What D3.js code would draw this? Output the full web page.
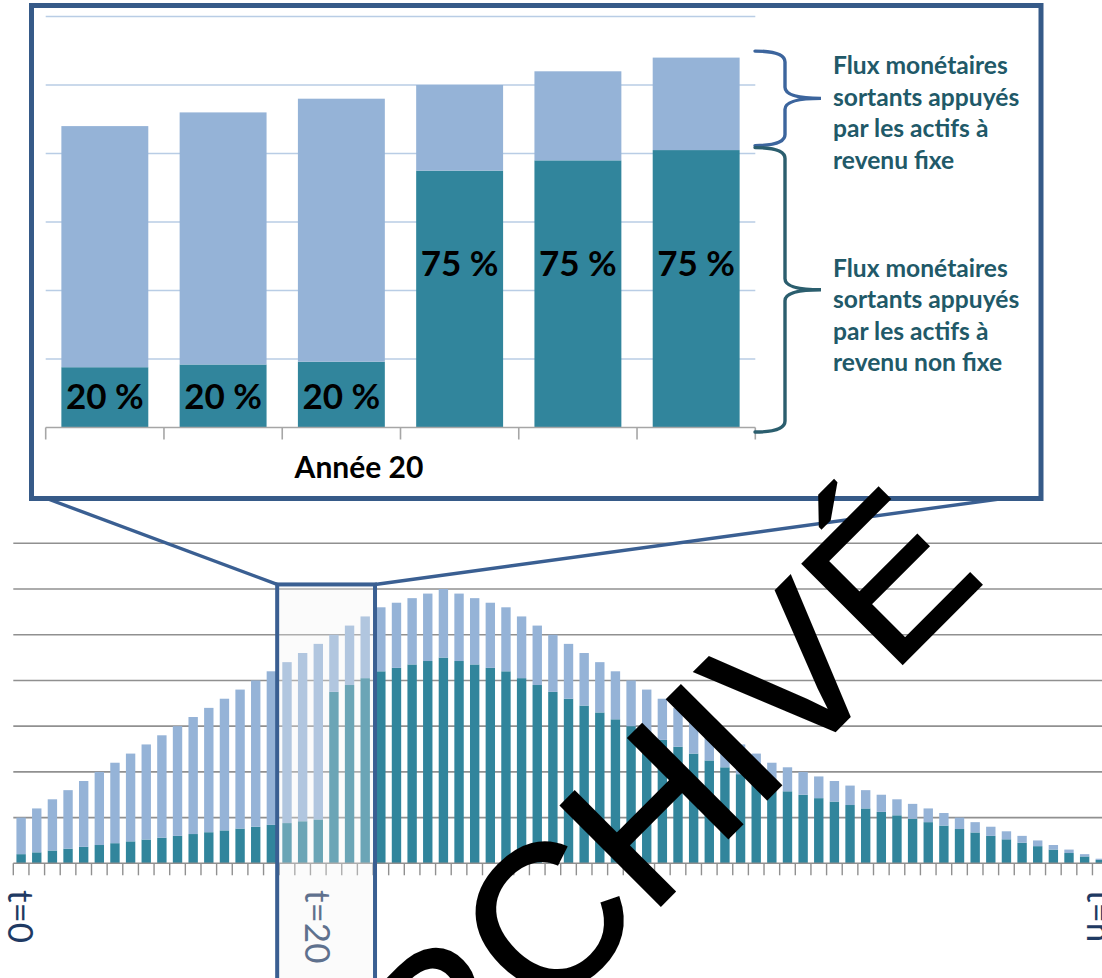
<!DOCTYPE html>
<html>
<head>
<meta charset="utf-8">
<script src="https://cdnjs.cloudflare.com/ajax/libs/d3/7.8.5/d3.min.js"></script>
<style>
  html, body { margin: 0; padding: 0; background: #ffffff; }
  svg { display: block; }
</style>
</head>
<body>
<svg id="chart" width="1102" height="978"></svg>
<script>
// Outgoing cash flows per period: total, and the part backed by non-fixed-income assets
const mainTotals = [
  10, 12, 14, 16, 18, 20, 22, 24, 26, 28, 30, 32, 34, 36, 38, 40, 42, 44, 46, 48,
  50, 52, 54, 56, 57, 58, 59, 60, 59, 58, 57, 56, 54, 52, 50, 48, 46, 44, 42, 40,
  38, 36, 34, 32, 30, 28, 26, 24, 22, 21, 20, 19, 18, 17, 16, 15, 14, 13, 12, 11,
  10, 9, 8, 7, 6, 5, 4, 3, 2, 1
];
const mainNonFixed = [
  2, 2.4, 2.8, 3.2, 3.6, 4, 4.4, 4.8, 5.2, 5.6, 6, 6.4, 6.8, 7.2, 7.6, 8, 8.4, 8.8, 9.2, 9.6,
  37.5, 39, 40.5, 42, 42.75, 43.5, 44.25, 45, 44.25, 43.5, 42.75, 42, 40.5, 39, 37.5, 36, 34.5, 33, 31.5, 30,
  28.5, 27, 25.5, 24, 22.5, 21, 19.5, 18, 16.5, 15.75, 15, 14.25, 13.5, 12.75, 12, 11.25, 10.5, 9.75, 9, 8.25,
  7.5, 6.75, 6, 5.25, 4.5, 3.75, 3, 2.25, 1.5, 0.75
];
const mainGrid = [10, 20, 30, 40, 50, 60, 70];
const periodLabels = [
  { period: 0, text: "t=0" },
  { period: 19, text: "t=20" },
  { period: 69, text: "t=n" }
];
const zoomPeriods = [17, 18, 19, 20, 21, 22];

// Detail of year 20: totals and share backed by non-fixed-income assets
const insetTotals = [44, 46, 48, 50, 52, 54];
const insetShares = [0.20, 0.20, 0.20, 0.75, 0.75, 0.75];
const insetGrid = [10, 20, 30, 40, 50, 60];
const insetCaption = "Année 20";
const braceLabels = [
  ["Flux monétaires", "sortants appuyés", "par les actifs à", "revenu fixe"],
  ["Flux monétaires", "sortants appuyés", "par les actifs à", "revenu non fixe"]
];
const stampText = "ARCHIVÉ";

const COLOR_FIXED = "#95b3d7";
const COLOR_NONFIXED = "#31859c";
const COLOR_FRAME = "#3a5f92";
const FONT = "Lato, 'Open Sans', 'DejaVu Sans', sans-serif";

const svg = d3.select("#chart");

// ---------- main chart ----------
const periods = mainTotals.map((_, i) => i);
const mainLeft = 13.3, mainStep = 15.64;
const xMain = d3.scaleBand()
  .domain(periods)
  .range([mainLeft, mainLeft + periods.length * mainStep])
  .paddingInner(0.4)
  .paddingOuter(0.2);
const yMain = d3.scaleLinear().domain([0, 70]).range([863.3, 543.3]);
const slotStart = p => xMain(p) - xMain.step() * xMain.paddingOuter();

const main = svg.append("g").attr("class", "main");

main.append("g").selectAll("line")
  .data(mainGrid)
  .join("line")
  .attr("x1", mainLeft).attr("x2", 1102)
  .attr("y1", d => yMain(d)).attr("y2", d => yMain(d))
  .attr("stroke", "#909090").attr("stroke-width", 1.6);

const mainRows = periods.map(i => ({
  period: i,
  nonFixed: mainNonFixed[i],
  fixed: mainTotals[i] - mainNonFixed[i]
}));
const stack = d3.stack().keys(["nonFixed", "fixed"]);
const mainSeries = stack(mainRows);

main.append("g").selectAll("g")
  .data(mainSeries)
  .join("g")
  .attr("fill", s => s.key === "fixed" ? COLOR_FIXED : COLOR_NONFIXED)
  .selectAll("rect")
  .data(s => s)
  .join("rect")
  .attr("x", d => xMain(d.data.period))
  .attr("width", xMain.bandwidth())
  .attr("y", d => yMain(d[1]))
  .attr("height", d => yMain(d[0]) - yMain(d[1]));

// baseline and ticks at period boundaries
main.append("line")
  .attr("x1", mainLeft).attr("x2", 1102)
  .attr("y1", yMain(0)).attr("y2", yMain(0))
  .attr("stroke", "#909090").attr("stroke-width", 1.6);
main.append("g").selectAll("line")
  .data(periods)
  .join("line")
  .attr("x1", d => slotStart(d)).attr("x2", d => slotStart(d))
  .attr("y1", yMain(0)).attr("y2", yMain(0) + 12)
  .attr("stroke", "#909090").attr("stroke-width", 1.4);

main.append("g").selectAll("text")
  .data(periodLabels)
  .join("text")
  .attr("transform", d => `translate(${xMain(d.period) + xMain.bandwidth() / 2 - 13},890) rotate(90)`)
  .attr("font-family", FONT)
  .attr("font-weight", 400)
  .attr("font-size", 35)
  .attr("fill", "#1f3a63")
  .text(d => d.text);

// highlighted window around year 20
const boxX0 = slotStart(zoomPeriods[0]) - 2;
const boxX1 = slotStart(zoomPeriods[zoomPeriods.length - 1]) + xMain.step() + 2;
const boxY0 = yMain(61);
main.append("rect")
  .attr("x", boxX0).attr("y", boxY0)
  .attr("width", boxX1 - boxX0).attr("height", 1000 - boxY0)
  .attr("fill", "#f2f2f2").attr("fill-opacity", 0.3)
  .attr("stroke", COLOR_FRAME).attr("stroke-width", 4);

// connectors from the window to the detail panel
const panel = { x: 31.5, y: 5.5, w: 1009.5, h: 493 };
main.append("g").selectAll("line")
  .data([[boxX0, 36], [boxX1, 1032]])
  .join("line")
  .attr("x1", d => d[0]).attr("y1", boxY0)
  .attr("x2", d => d[1]).attr("y2", panel.y + panel.h - 4)
  .attr("stroke", COLOR_FRAME).attr("stroke-width", 3.4);

// ---------- detail panel ----------
const inset = svg.append("g").attr("class", "inset");
inset.append("rect")
  .attr("x", panel.x).attr("y", panel.y)
  .attr("width", panel.w).attr("height", panel.h)
  .attr("fill", "#ffffff");

const insetLeft = 45.7, insetRight = 755.3;
const xInset = d3.scaleBand()
  .domain(zoomPeriods)
  .range([insetLeft, insetRight])
  .paddingInner(0.265)
  .paddingOuter(0.1325);
const yInset = d3.scaleLinear().domain([0, 60]).range([427.5, 16.5]);

inset.append("g").selectAll("line")
  .data(insetGrid)
  .join("line")
  .attr("x1", insetLeft).attr("x2", insetRight)
  .attr("y1", d => yInset(d)).attr("y2", d => yInset(d))
  .attr("stroke", "#b9cde5").attr("stroke-width", 1.6);

const insetRows = zoomPeriods.map((p, i) => ({
  period: p,
  share: insetShares[i],
  nonFixed: insetTotals[i] * insetShares[i],
  fixed: insetTotals[i] * (1 - insetShares[i])
}));
inset.append("g").selectAll("g")
  .data(stack(insetRows))
  .join("g")
  .attr("fill", s => s.key === "fixed" ? COLOR_FIXED : COLOR_NONFIXED)
  .selectAll("rect")
  .data(s => s)
  .join("rect")
  .attr("x", d => xInset(d.data.period))
  .attr("width", xInset.bandwidth())
  .attr("y", d => yInset(d[1]))
  .attr("height", d => yInset(d[0]) - yInset(d[1]));

inset.append("line")
  .attr("x1", insetLeft).attr("x2", insetRight)
  .attr("y1", yInset(0)).attr("y2", yInset(0))
  .attr("stroke", "#a6a6a6").attr("stroke-width", 1.6);
const insetTicks = zoomPeriods.map(p => xInset(p) - xInset.step() * xInset.paddingOuter()).concat([insetRight]);
inset.append("g").selectAll("line")
  .data(insetTicks)
  .join("line")
  .attr("x1", d => d).attr("x2", d => d)
  .attr("y1", yInset(0)).attr("y2", yInset(0) + 12)
  .attr("stroke", "#a6a6a6").attr("stroke-width", 1.6);

inset.append("g").selectAll("text")
  .data(insetRows)
  .join("text")
  .attr("x", d => xInset(d.period) + xInset.bandwidth() / 2)
  .attr("y", d => d.share < 0.5 ? yInset(0) - 18.5 : 276)
  .attr("text-anchor", "middle")
  .attr("font-family", FONT)
  .attr("font-weight", 700)
  .attr("font-size", 35)
  .attr("fill", "#000000")
  .text(d => `${Math.round(d.share * 100)} %`);

inset.append("text")
  .attr("x", 359).attr("y", 478)
  .attr("text-anchor", "middle")
  .attr("font-family", FONT)
  .attr("font-weight", 700)
  .attr("font-size", 30)
  .attr("fill", "#000000")
  .text(insetCaption);

// braces marking the two components of the last detailed bar
function bracePath(xEnd, xSpine, xTip, y0, y1, r) {
  const ym = (y0 + y1) / 2;
  return `M${xEnd},${y0} Q${xSpine},${y0} ${xSpine},${y0 + r} L${xSpine},${ym - r} ` +
         `Q${xSpine},${ym} ${xTip},${ym} Q${xSpine},${ym} ${xSpine},${ym + r} ` +
         `L${xSpine},${y1 - r} Q${xSpine},${y1} ${xEnd},${y1}`;
}
const lastRow = insetRows[insetRows.length - 1];
const braces = [
  { y0: yInset(lastRow.nonFixed + lastRow.fixed) - 6.5, y1: yInset(lastRow.nonFixed) - 4.5, color: "#3c659d" },
  { y0: yInset(lastRow.nonFixed) - 2.5, y1: yInset(0) + 4.5, color: "#2b5e6e" }
];
inset.append("g").selectAll("path")
  .data(braces)
  .join("path")
  .attr("d", d => bracePath(755, 785, 821, d.y0, d.y1, 11))
  .attr("fill", "none")
  .attr("stroke", d => d.color)
  .attr("stroke-width", 3.4)
  .attr("stroke-linecap", "round");

const blockTops = [74, 276.5];
braceLabels.forEach((lines, b) => {
  inset.append("text")
    .attr("font-family", FONT)
    .attr("font-weight", 700)
    .attr("font-size", 24.6)
    .attr("fill", "#215968")
    .selectAll("tspan")
    .data(lines)
    .join("tspan")
    .attr("x", 833)
    .attr("y", (d, i) => blockTops[b] + i * 31.5)
    .text(d => d);
});

inset.append("rect")
  .attr("x", panel.x).attr("y", panel.y)
  .attr("width", panel.w).attr("height", panel.h)
  .attr("fill", "none")
  .attr("stroke", "#365a88").attr("stroke-width", 5);

// archive stamp
svg.append("text")
  .attr("transform", "translate(343,1223) rotate(-45)")
  .attr("font-family", "'Liberation Sans', Arial, sans-serif")
  .attr("font-size", 205)
  .attr("fill", "#000000")
  .attr("stroke", "#000000")
  .attr("stroke-width", 2.5)
  .attr("stroke-linejoin", "miter")
  .text(stampText);
</script>
</body>
</html>
